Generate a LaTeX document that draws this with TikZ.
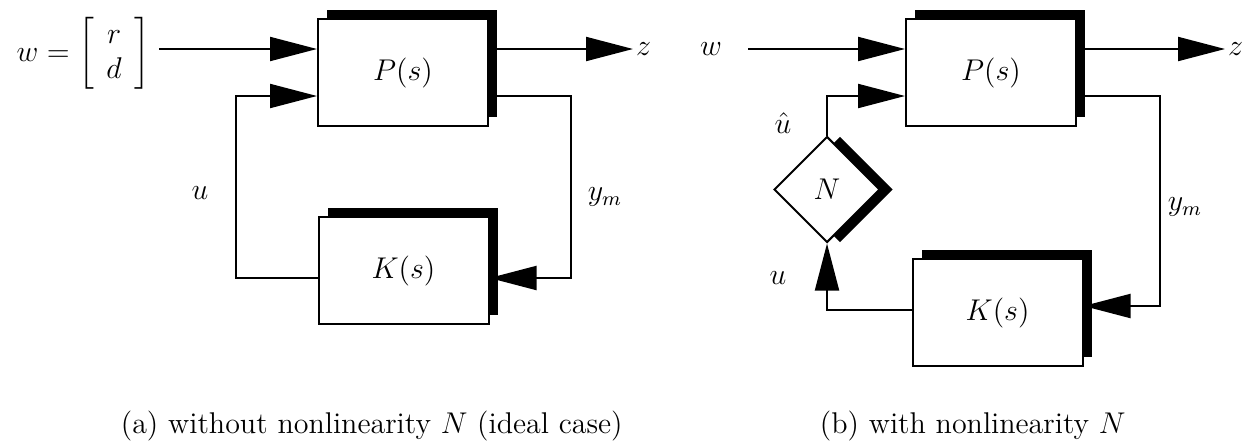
\documentclass[tikz,border=0pt]{standalone}
\usepackage{amsmath}
\usetikzlibrary{arrows.meta,shapes.geometric,shadows,calc}
\tikzset{blk/.style={draw,thick,fill=white,minimum width=68pt,minimum height=42.8pt,
           general shadow={fill=black,shadow xshift=3.6pt,shadow yshift=3.6pt}},
         nlin/.style={draw,thick,fill=white,diamond,aspect=1,inner sep=0pt,
           minimum width=42.4pt,minimum height=42.4pt,
           general shadow={fill=black,shadow xshift=5.2pt}},
         sig/.style={thick,-{Triangle[length=18.8pt,width=9.6pt]}}}

\begin{document}
\begin{tikzpicture}[x=0.4pt,y=-0.4pt,font=\large]
\useasboundingbox (0,0) rectangle (1250,447);
% (a) without N
\node [blk] (P1) at (403,72.5) {$P(s)$};
\node [blk] (K1) at (403.5,270.5) {$K(s)$};
\node [anchor=east,inner sep=0pt,outer sep=3.6pt] (w1) at (159,53.5)
  {$\delimiterfactor=950 w=\left[\begin{array}{c} r\\ d\end{array}\right]$};
\node [anchor=west,inner sep=1pt] (z1) at (633,49) {$z$};
\node (u1) at (200,193) {$u$};
\node (ym1) at (605,197) {$y_m$};
\coordinate (P1i) at ($(P1.west)+(0,-23.5)$);
\coordinate (P1j) at ($(P1.west)+(0,23.5)$);
\coordinate (P1o) at ($(P1.east)+(0,-23.5)$);
\coordinate (P1y) at ($(P1.east)+(0,23.5)$);
\coordinate (K1y) at ($(K1.east)+(0,7.5)$);
\coordinate (K1u) at ($(K1.west)+(0,7.5)$);
\coordinate (r1) at (571,0);
\coordinate (l1) at (236,0);
\draw [sig] (w1.east |- P1i) -- (P1i);
\draw [sig] (P1o) -- (z1.west |- P1o);
\draw [sig] (P1y) -| (r1 |- K1y) -- (K1y);
\draw [sig] (K1u) -| (l1 |- P1j) -- (P1j);
% (b) with N
\node [blk] (P2) at (991,72.5) {$P(s)$};
\node [blk] (K2) at (997.5,312.5) {$K(s)$};
\node [nlin] (N) at (827,189.5) {$N$};
\node [anchor=east,inner sep=0pt,outer sep=10.4pt] (w2) at (748,49) {$w$};
\node [anchor=west,inner sep=1pt] (z2) at (1225,49) {$z$};
\node (uh) at (783,123) {$\hat{u}$};
\node (u2) at (778,278) {$u$};
\node (ym2) at (1185,207) {$y_m$};
\coordinate (P2i) at ($(P2.west)+(0,-23.5)$);
\coordinate (P2j) at ($(P2.west)+(0,23.5)$);
\coordinate (P2o) at ($(P2.east)+(0,-23.5)$);
\coordinate (P2y) at ($(P2.east)+(0,23.5)$);
\coordinate (K2y) at ($(K2.east)+(0,-6.5)$);
\coordinate (K2u) at ($(K2.west)+(0,-2.5)$);
\coordinate (r2) at (1160,0);
\draw [sig] (w2.east |- P2i) -- (P2i);
\draw [sig] (P2o) -- (z2.west |- P2o);
\draw [sig] (P2y) -| (r2 |- K2y) -- (K2y);
\draw [sig] (N.north) |- (P2j);
\draw [sig] (K2u) -| (N.south);
% captions
\node [anchor=west] (capa) at (112,426) {(a) without nonlinearity $N$ (ideal case)};
\node [anchor=west] (capb) at (811,426) {(b) with nonlinearity $N$};
\end{tikzpicture}
\end{document}
